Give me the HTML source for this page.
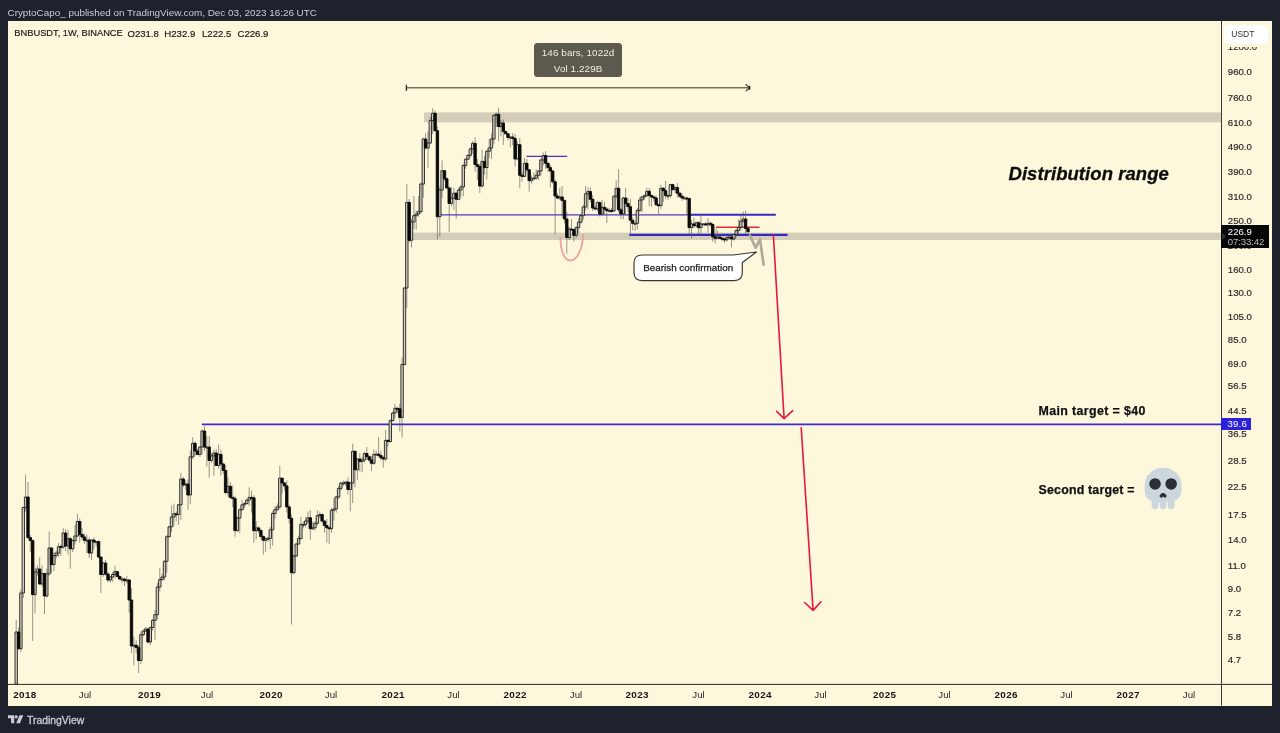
<!DOCTYPE html>
<html lang="en">
<head>
<meta charset="utf-8">
<title>BNBUSDT 1W chart</title>
<style>
  html, body { margin: 0; padding: 0; }
  body {
    width: 1280px; height: 733px; overflow: hidden; position: relative;
    background: #1e222d;
    font-family: "Liberation Sans", sans-serif;
  }
  .abs { position: absolute; white-space: nowrap; }
  #header {
    left: 7.5px; top: 6px; height: 14px; line-height: 14px;
    font-size: 9.9px; color: #c9cdd6;
  }
  #chart {
    left: 8px; top: 21px; width: 1264px; height: 684.5px;
    background: #fdf8dc; overflow: hidden;
  }
  #legend {
    left: 14.3px; top: 27px; height: 13px; line-height: 13px;
    font-size: 9.3px; color: #1b1b1b; word-spacing: 0; -webkit-text-stroke: 0.2px #1b1b1b;
  }
  #legend span { position: absolute; top: -0.3px; font-size: 9.6px; }
  #art { left: 0; top: 0; width: 1280px; height: 733px; }
  .plabel {
    left: 1227.8px; width: 40px; height: 12px; line-height: 12px;
    font-size: 9.6px; color: #2a2a2a; -webkit-text-stroke: 0.2px #2a2a2a;
  }
  .tlabel {
    top: 689px; height: 12px; line-height: 12px; width: 40px; margin-left: -20px;
    text-align: center; font-size: 9.7px; color: #2a2a2a;
  }
  .tlabel.y { font-weight: bold; color: #161616; letter-spacing: 0.32px; font-size: 9.9px; }
  #usdt {
    left: 1224px; top: 24.5px; width: 44px; height: 19px; line-height: 19px;
    background: #ffffff; border-radius: 3px; text-align: left; text-indent: 7.2px;
    font-size: 8.5px; color: #30302c; letter-spacing: 0.05px;
  }
  #cur {
    left: 1221.3px; top: 225.2px; width: 48px; height: 22.5px; background: #060606;
    color: #ffffff; font-size: 9.6px; line-height: 10.3px;
  }
  #cur div { padding-left: 6.5px; }
  #cur div:first-child { padding-top: 1.45px; }
  #cur div.t { color: #b9b9b9; letter-spacing: -0.1px; }
  #tgt {
    left: 1221.3px; top: 418px; width: 29.5px; height: 12.4px; line-height: 12.8px;
    background: #2d22dc; color: #fff; font-size: 9.6px;
  }
  #tgt div { padding-left: 6.3px; letter-spacing: 0.15px; }
  #tip {
    left: 533.8px; top: 42.6px; width: 88.6px; height: 34.8px; border-radius: 3.5px;
    background: #5c594f; color: #f3eed9; text-align: center; font-size: 9.9px;
    letter-spacing: 0.08px;
  }
  #tip div { height: 15.3px; line-height: 15.3px; }
  #tip div:first-child { padding-top: 2.8px; }
  #dist {
    left: 1008.5px; top: 161.9px; height: 24px; line-height: 24px;
    font-size: 18.5px; font-weight: bold; font-style: italic; color: #0d0d0d;
    letter-spacing: 0.06px; -webkit-text-stroke: 0.3px #0d0d0d;
  }
  .note {
    left: 1038.6px; height: 16px; line-height: 16px;
    font-size: 12.4px; font-weight: bold; color: #111; -webkit-text-stroke: 0.25px #111;
  }
  #callout-text {
    left: 634px; top: 255px; width: 108.3px; height: 25.6px; line-height: 25px;
    text-align: center; font-size: 9.9px; color: #1b1b1b; -webkit-text-stroke: 0.25px #1b1b1b;
  }
  #brand {
    left: 27px; top: 712.7px; height: 15px; line-height: 15px;
    font-size: 10.4px; color: #c9cdd6; -webkit-text-stroke: 0.3px #c9cdd6;
  }
</style>
</head>
<body>

<div id="header" class="abs">CryptoCapo_ published on TradingView.com, Dec 03, 2023 16:26 UTC</div>

<div id="chart" class="abs"></div>

<div id="legend" class="abs">BNBUSDT, 1W, BINANCE<span style="left:113.2px">O231.8</span><span style="left:150px">H232.9</span><span style="left:187.7px">L222.5</span><span style="left:223.2px">C226.9</span></div>

<svg id="art" class="abs" viewBox="0 0 1280 733" width="1280" height="733">
  <!-- distribution range bands -->
  <rect x="424" y="112.4" width="797.5" height="10" fill="#d4ceb9"/>
  <rect x="411.8" y="232.6" width="809.7" height="7.4" fill="#d4ceb9"/>

  <!-- horizontal levels -->
  <line x1="201.8" y1="424.4" x2="1221.5" y2="424.4" stroke="#3a2bd0" stroke-width="1.8"/>
  <line x1="438.5" y1="214.8" x2="692" y2="214.8" stroke="#4d38c6" stroke-width="1.25"/>
  <line x1="690" y1="214.8" x2="775.8" y2="214.8" stroke="#3629c4" stroke-width="2"/>
  <line x1="526.4" y1="156.3" x2="567.2" y2="156.3" stroke="#4535cc" stroke-width="1.2"/>
  <line x1="629.3" y1="234.85" x2="787.6" y2="234.85" stroke="#3427c2" stroke-width="2.4"/>
  <line x1="716" y1="227.3" x2="759.6" y2="227.3" stroke="#dd2c3a" stroke-width="1.4"/>
  <line x1="716" y1="227.1" x2="716" y2="234.9" stroke="#8a8678" stroke-width="0.7"/>

  <!-- candles -->
<path d="M16.2 620V684M18.6 627.3V649.8M20.9 589.4V652.1M23.3 506.7V598M25.6 474.5V511.6M28 482V538.8M30.3 534.9V552M32.7 539.5V641M35 567.6V613.3M37.4 565.1V575.7M39.7 557.3V584.9M42.1 565.4V586.7M44.5 572.4V614M46.8 568.7V597.3M49.2 531.5V575.7M51.5 547V572.9M53.9 551.8V571.1M56.2 550.5V558.3M58.6 543V557M60.9 544.8V555.8M63.3 528.1V549.2M65.6 529.2V551M68 530V554.6M70.3 536.8V568.8M72.7 539.4V552M75 525.1V544.6M77.4 514V537M79.7 518.4V542.5M82.1 527.9V539.9M84.5 533.5V544.2M86.8 534.5V553M89.2 537.7V558M91.5 539.2V560M93.9 537.5V549.4M96.2 540.9V546.4M98.6 540.3V558.4M100.9 556.2V593M103.3 561.9V576.8M105.6 559.8V575.7M108 571.9V582.1M110.3 576V582.8M112.7 572.1V581.8M115 565.8V578.1M117.4 570.8V577.5M119.7 575.5V580.2M122.1 576.8V583M124.5 577.8V586M126.8 575.8V583.7M129.2 578.9V612.7M131.5 588.3V653.1M133.9 636.7V665.3M136.2 640.2V653.2M138.6 645.3V673M140.9 631.6V664.2M143.3 629.6V636.4M145.6 626.8V632M148 628.4V643.5M150.3 626.5V645.4M152.7 618.9V631M155 610.2V640.1M157.4 582.8V619.3M159.8 567.9V591.5M162.1 573.8V580.8M164.5 560.3V580.2M166.8 534.9V572.8M169.2 525.6V537.4M171.5 505.3V532.1M173.9 503.6V526.3M176.2 511.8V521.5M178.6 503.9V525.1M180.9 472.8V520.1M183.3 476.7V487.2M185.6 480.4V489.9M188 479.5V509.7M190.3 450.3V504.3M192.7 437.2V459.2M195 441.7V456.1M197.4 448.7V455.2M199.8 446.3V456.9M202.1 429.2V454.9M204.5 426V451.2M206.8 435.9V466.7M209.2 436V477.7M211.5 453.2V463.3M213.9 449.8V475.9M216.2 449.1V466.1M218.6 444.5V468.7M220.9 449.8V475.7M223.3 462.9V474M225.6 465V494.5M228 477.2V496.6M230.3 481.8V498.6M232.7 485.7V507.1M235 495.6V536.7M237.4 516.7V532M239.8 508.5V533.1M242.1 499.7V511M244.5 502.1V508M246.8 498.9V504.3M249.2 487.3V506M251.5 490.6V512.5M253.9 495.2V542.7M256.2 521.1V539.3M258.6 526.2V533.1M260.9 529.4V539.5M263.3 535.3V554.6M265.6 537.4V551.9M268 536.6V541.7M270.3 526.8V549M272.7 510.8V545.8M275 506.4V518.8M277.4 503.4V510.4M279.8 465.8V508.7M282.1 477.6V493.5M284.5 481.7V490.4M286.8 480.3V512.5M289.2 504.8V523.4M291.5 514.6V624.5M293.9 555.1V574.6M296.2 543.2V557.1M298.6 535.7V544.8M300.9 516.8V539.5M303.3 521.7V528.3M305.6 517.1V527.6M308 511.3V523.7M310.3 510.1V539.6M312.7 521.7V530.2M315 521.1V530.6M317.4 510.2V525.2M319.8 511.5V518.1M322.1 513.5V522.9M324.5 520.1V532.5M326.8 519V542.5M329.2 526.5V543.9M331.5 507.9V532.8M333.9 498.3V520.7M336.2 495.8V512.7M338.6 486V499.2M340.9 481.8V490.7M343.3 480.4V485.8M345.6 481.3V486M348 477.6V494.5M350.3 482.1V511.3M352.7 443.6V503M355 450.3V487.3M357.4 458.2V479.7M359.8 453.1V471.4M362.1 456.8V472.3M364.5 451.9V462.7M366.8 447V459.7M369.2 455.2V461.8M371.5 456.2V471M373.9 449.5V464.8M376.2 450.6V455.3M378.6 437V456.5M380.9 450.6V460.5M383.3 455.8V467.6M385.6 430V461.4M388 439.3V446.5M390.3 419.1V442.8M392.7 411.8V421.6M395 403.9V418.3M397.4 406.8V412.9M399.8 403.8V431.6M402.1 357.6V437.5M404.5 287.3V365.2M406.8 184V308M409.2 199V242.6M411.5 219.1V247.5M413.9 196V229.2M416.2 210.3V229.8M418.6 196V216.9M420.9 182.5V213.8M423.3 137.5V197.7M425.6 133.3V149.5M428 131.3V168M430.3 117V143.7M432.7 108.2V134.1M435.1 110.5V131.7M437.4 125.9V239.3M439.8 186.7V236.7M442.1 160.4V197.9M444.5 169.9V180.7M446.8 177V188.6M449.2 185.8V232M451.5 187.2V206.3M453.9 188V210.1M456.2 191.7V218.8M458.6 187.9V200.4M460.9 185.2V196.8M463.3 163.9V196.3M465.6 158.3V168.9M468 154.5V160M470.3 147.2V157.3M472.7 141V154.2M475.1 137.4V171.7M477.4 159V180.1M479.8 164V193M482.1 149.7V187.6M484.5 155.8V174.5M486.8 150.4V179.3M489.2 138.8V157.9M491.5 133.3V158.9M493.9 114.2V144.1M496.2 112.3V127.1M498.6 107.6V141M500.9 120.1V136.3M503.3 119.4V145M505.6 130.5V134.5M508 132.8V140.2M510.3 136V147.3M512.7 133.2V145.2M515.1 134.1V166.6M517.4 141.5V159.6M519.8 137.9V188.4M522.1 172V181.7M524.5 157.8V177.4M526.8 159V171.7M529.2 169V191.6M531.5 175.5V183.6M533.9 172.5V179.5M536.2 169.2V179.8M538.6 170.3V180M540.9 158.8V175.6M543.3 152.4V165.3M545.6 151.2V168.8M548 162.2V171.7M550.3 164.9V187.5M552.7 170.1V183.5M555.1 179.4V234.2M557.4 193.2V199.4M559.8 187.7V200M562.1 185.9V216.9M564.5 199.7V223.3M566.8 211.8V253.8M569.2 226.1V240M571.5 219.2V230.6M573.9 228.8V241.9M576.2 226.1V237.8M578.6 218.5V233.5M580.9 213.9V223.4M583.3 204.9V219.8M585.6 185.9V210.4M588 187.3V209.4M590.3 187.5V202.4M592.7 194.9V211.1M595.1 205.9V210.2M597.4 200.8V211.4M599.8 201V216.5M602.1 199.9V215.4M604.5 201.8V214M606.8 207.4V223M609.2 207.7V212.9M611.5 207.9V213.3M613.9 195.4V212.2M616.2 180.3V198.9M618.6 169.2V212.2M620.9 208V219M623.3 196.6V219.6M625.6 187.6V215.8M628 197.7V212.3M630.4 198.8V233.7M632.7 217V230.4M635.1 222.5V230.7M637.4 208.2V229.5M639.8 196.6V212.4M642.1 196.2V212.4M644.5 194.7V199.7M646.8 187.6V197.1M649.2 188.1V206.3M651.5 194.4V206.7M653.9 195.4V201.9M656.2 196.1V206.1M658.6 203.7V214M660.9 184.6V208.9M663.3 187V202M665.6 181V199.1M668 194.7V200M670.4 183.8V197.8M672.7 183.8V191.1M675.1 186.3V193.3M677.4 183V197.6M679.8 191.7V198.1M682.1 193.3V200.9M684.5 196.2V198.9M686.8 196.4V213.9M689.2 197.5V233.7M691.5 220.1V238.4M693.9 217.7V228M696.2 221.6V227.7M698.6 221.1V235.8M700.9 215.3V233M703.3 223.3V224.6M705.6 222V225.8M708 218V232.5M710.4 221.3V226.8M712.7 222.8V241.7M715.1 235.7V243.4M717.4 230.7V239.1M719.8 234.5V238.8M722.1 237.5V241.1M724.5 238.3V242.8M726.8 235.9V241.7M729.2 234V238.5M731.5 235.8V247.4M733.9 233.5V240.6M736.2 229.2V237.1M738.6 219.4V235.2M740.9 215.1V230.4M743.3 211.5V222.7M745.6 210.6V234.1M748 227V232.5" stroke="#55534a" stroke-width="0.8" fill="none" opacity="0.75"/>
<path d="M15 632h2.4v52h-2.4zM19.7 593h2.4v55.7h-2.4zM22.1 507.5h2.4v85.5h-2.4zM24.4 497h2.4v10.5h-2.4zM33.8 572h2.4v22.6h-2.4zM36.2 569h2.4v3h-2.4zM40.9 573.6h2.4v10.4h-2.4zM45.6 573.8h2.4v22.2h-2.4zM48 548h2.4v25.8h-2.4zM52.7 555.6h2.4v9h-2.4zM55 553.1h2.4v2.5h-2.4zM57.4 546.6h2.4v6.5h-2.4zM62.1 533h2.4v14h-2.4zM66.8 538.7h2.4v7.3h-2.4zM71.5 540.7h2.4v8.1h-2.4zM73.8 536h2.4v4.7h-2.4zM76.2 521.5h2.4v14.5h-2.4zM85.6 540h2.4v1h-2.4zM90.3 540h2.4v13h-2.4zM95 541.6h2.4v1h-2.4zM102.1 563h2.4v11.5h-2.4zM109.1 577h2.4v3h-2.4zM111.5 574.5h2.4v2.5h-2.4zM113.8 571.7h2.4v2.8h-2.4zM120.9 579h2.4v1h-2.4zM125.6 580h2.4v1h-2.4zM132.7 645.2h2.4v1h-2.4zM139.7 634.7h2.4v25.8h-2.4zM142.1 631.1h2.4v3.6h-2.4zM144.4 629h2.4v2.1h-2.4zM149.1 627.5h2.4v14.5h-2.4zM151.5 620.4h2.4v7.1h-2.4zM153.8 614.7h2.4v5.7h-2.4zM156.2 587h2.4v27.7h-2.4zM158.6 579.6h2.4v7.4h-2.4zM160.9 577h2.4v2.6h-2.4zM163.3 561.3h2.4v15.7h-2.4zM165.6 536.7h2.4v24.6h-2.4zM168 526.9h2.4v9.8h-2.4zM170.3 517h2.4v9.9h-2.4zM172.7 513.8h2.4v3.2h-2.4zM177.4 504.8h2.4v9.8h-2.4zM179.7 479h2.4v25.8h-2.4zM184.4 484h2.4v1h-2.4zM189.1 456.9h2.4v38.1h-2.4zM191.5 443.3h2.4v13.6h-2.4zM198.6 447h2.4v7.4h-2.4zM200.9 431h2.4v16h-2.4zM205.6 447h2.4v1h-2.4zM210.3 455.9h2.4v4.6h-2.4zM212.7 453h2.4v2.9h-2.4zM217.4 454.4h2.4v11.1h-2.4zM226.8 486.3h2.4v6.2h-2.4zM236.2 518h2.4v12.6h-2.4zM238.6 509.7h2.4v8.3h-2.4zM240.9 504.8h2.4v4.9h-2.4zM243.3 503.6h2.4v1.2h-2.4zM245.6 500h2.4v3.6h-2.4zM248 497.4h2.4v2.6h-2.4zM255 527.9h2.4v2.8h-2.4zM264.4 538.4h2.4v1.9h-2.4zM266.8 538.4h2.4v1h-2.4zM269.1 529.8h2.4v8.6h-2.4zM271.5 513.5h2.4v16.3h-2.4zM273.8 509.7h2.4v3.8h-2.4zM276.2 506.9h2.4v2.8h-2.4zM278.6 478.2h2.4v28.7h-2.4zM292.7 555.9h2.4v16.8h-2.4zM295 544h2.4v11.9h-2.4zM297.4 538.6h2.4v5.4h-2.4zM299.7 524.4h2.4v14.2h-2.4zM302.1 524.4h2.4v1h-2.4zM304.4 521h2.4v3.4h-2.4zM306.8 517.8h2.4v3.2h-2.4zM311.5 527.8h2.4v1h-2.4zM313.8 523.3h2.4v4.5h-2.4zM316.2 515.6h2.4v7.7h-2.4zM318.6 514.6h2.4v1h-2.4zM330.3 510.2h2.4v18.5h-2.4zM332.7 509h2.4v1.2h-2.4zM335 497h2.4v12h-2.4zM337.4 488.4h2.4v8.6h-2.4zM339.7 483h2.4v5.4h-2.4zM342.1 483h2.4v1h-2.4zM344.4 482h2.4v1h-2.4zM349.1 483h2.4v6.5h-2.4zM351.5 451.3h2.4v31.7h-2.4zM356.2 459h2.4v10.8h-2.4zM360.9 460h2.4v1.6h-2.4zM363.3 453.5h2.4v6.5h-2.4zM372.7 454.5h2.4v8.8h-2.4zM375 454.1h2.4v1h-2.4zM384.4 440.4h2.4v18.6h-2.4zM389.1 420.7h2.4v20.8h-2.4zM391.5 413h2.4v7.7h-2.4zM393.8 408.3h2.4v4.7h-2.4zM400.9 364.5h2.4v53h-2.4zM403.3 288h2.4v76.5h-2.4zM405.6 202.4h2.4v85.6h-2.4zM410.3 222h2.4v18.3h-2.4zM412.7 215.7h2.4v6.3h-2.4zM415 214h2.4v1.7h-2.4zM417.4 211.6h2.4v2.4h-2.4zM419.7 184h2.4v27.6h-2.4zM422.1 139h2.4v45h-2.4zM426.8 143h2.4v5h-2.4zM429.1 120.5h2.4v22.5h-2.4zM431.5 113.3h2.4v7.2h-2.4zM438.6 190h2.4v26.7h-2.4zM440.9 170.7h2.4v19.3h-2.4zM450.3 198.3h2.4v5.1h-2.4zM452.7 193.2h2.4v5.1h-2.4zM457.4 190h2.4v9.3h-2.4zM459.7 187h2.4v3h-2.4zM462.1 165.5h2.4v21.5h-2.4zM464.4 159.2h2.4v6.3h-2.4zM466.8 155.3h2.4v3.9h-2.4zM469.1 149h2.4v6.3h-2.4zM471.5 143.4h2.4v5.6h-2.4zM480.9 161.4h2.4v24.6h-2.4zM485.6 151.2h2.4v16.4h-2.4zM488 148h2.4v3.2h-2.4zM490.3 139h2.4v9h-2.4zM492.7 115.4h2.4v23.6h-2.4zM495 114.3h2.4v1.1h-2.4zM499.7 123h2.4v3.6h-2.4zM509.1 137h2.4v1h-2.4zM516.2 144.7h2.4v14.3h-2.4zM523.3 163.3h2.4v13.1h-2.4zM530.3 178.6h2.4v2.1h-2.4zM532.7 178h2.4v1h-2.4zM535 175.3h2.4v2.7h-2.4zM537.4 171h2.4v4.3h-2.4zM539.7 160h2.4v11h-2.4zM542.1 155.6h2.4v4.4h-2.4zM558.6 197h2.4v1.1h-2.4zM568 229h2.4v8.5h-2.4zM575 227.6h2.4v7.7h-2.4zM577.4 222.2h2.4v5.4h-2.4zM579.7 215.6h2.4v6.6h-2.4zM582.1 207h2.4v8.6h-2.4zM584.4 193.8h2.4v13.2h-2.4zM586.8 191.6h2.4v2.2h-2.4zM596.2 202.6h2.4v6.4h-2.4zM600.9 207.3h2.4v6.7h-2.4zM608 210.4h2.4v1h-2.4zM612.7 196.2h2.4v14.8h-2.4zM615 188.3h2.4v7.9h-2.4zM622.1 198h2.4v16h-2.4zM633.9 223.3h2.4v1h-2.4zM636.2 210.4h2.4v12.9h-2.4zM638.6 200h2.4v10.4h-2.4zM640.9 196.9h2.4v3.1h-2.4zM643.3 195.6h2.4v1.3h-2.4zM645.6 191.3h2.4v4.3h-2.4zM659.7 188.3h2.4v17.2h-2.4zM666.8 195.6h2.4v1h-2.4zM669.2 184.6h2.4v11h-2.4zM673.9 187.6h2.4v1.9h-2.4zM683.3 198h2.4v1h-2.4zM690.3 223.9h2.4v3.7h-2.4zM695 222.7h2.4v3h-2.4zM699.7 223.9h2.4v3.7h-2.4zM702.1 223.9h2.4v1h-2.4zM706.8 223.3h2.4v1.7h-2.4zM716.2 237h2.4v1.2h-2.4zM725.6 237.7h2.4v2.1h-2.4zM728 237h2.4v1h-2.4zM732.7 234.5h2.4v4.5h-2.4zM735 230.6h2.4v3.9h-2.4zM737.4 227.4h2.4v3.2h-2.4zM739.7 221h2.4v6.4h-2.4zM742.1 219h2.4v2h-2.4z" fill="#cfcabb" stroke="#222" stroke-width="0.9"/>
<path d="M17.4 632h2.4v16.7h-2.4zM26.8 497h2.4v40.6h-2.4zM29.1 537.6h2.4v3h-2.4zM31.5 540.6h2.4v54h-2.4zM38.5 569h2.4v15h-2.4zM43.3 573.6h2.4v22.4h-2.4zM50.3 548h2.4v16.6h-2.4zM59.7 546.6h2.4v1h-2.4zM64.4 533h2.4v13h-2.4zM69.1 538.7h2.4v10.1h-2.4zM78.5 521.5h2.4v12.9h-2.4zM80.9 534.4h2.4v2.6h-2.4zM83.3 537h2.4v3.3h-2.4zM88 540h2.4v13h-2.4zM92.7 540h2.4v2h-2.4zM97.4 541.6h2.4v15.4h-2.4zM99.7 557h2.4v17.5h-2.4zM104.4 563h2.4v11h-2.4zM106.8 574h2.4v6h-2.4zM116.2 571.7h2.4v4.8h-2.4zM118.5 576.5h2.4v2.5h-2.4zM123.3 579h2.4v1.7h-2.4zM128 580h2.4v20h-2.4zM130.3 600h2.4v46h-2.4zM135 645.2h2.4v2.4h-2.4zM137.4 647.6h2.4v12.9h-2.4zM146.8 629h2.4v13h-2.4zM175 513.8h2.4v1h-2.4zM182.1 479h2.4v6h-2.4zM186.8 484h2.4v11h-2.4zM193.8 443.3h2.4v7.7h-2.4zM196.2 451h2.4v3.4h-2.4zM203.3 431h2.4v16h-2.4zM208 447h2.4v13.5h-2.4zM215 453h2.4v12.5h-2.4zM219.7 454.4h2.4v9.6h-2.4zM222.1 464h2.4v6.4h-2.4zM224.4 470.4h2.4v22.1h-2.4zM229.1 486.3h2.4v11.1h-2.4zM231.5 497.4h2.4v1.2h-2.4zM233.8 498.6h2.4v32h-2.4zM250.3 497.4h2.4v1h-2.4zM252.7 497.8h2.4v32.9h-2.4zM257.4 527.9h2.4v2.6h-2.4zM259.7 530.5h2.4v6h-2.4zM262.1 536.5h2.4v3.8h-2.4zM280.9 478.2h2.4v4.8h-2.4zM283.3 483h2.4v2.9h-2.4zM285.6 485.9h2.4v21h-2.4zM288 506.9h2.4v11.4h-2.4zM290.3 518.3h2.4v54.4h-2.4zM309.1 517.8h2.4v10.9h-2.4zM320.9 514.6h2.4v6.5h-2.4zM323.3 521.1h2.4v4.4h-2.4zM325.6 525.5h2.4v2.3h-2.4zM328 527.8h2.4v1h-2.4zM346.8 482h2.4v7.5h-2.4zM353.8 451.3h2.4v18.5h-2.4zM358.6 459h2.4v2.6h-2.4zM365.6 453.5h2.4v3.2h-2.4zM368 456.7h2.4v3.3h-2.4zM370.3 460h2.4v3.3h-2.4zM377.4 454.1h2.4v1.5h-2.4zM379.7 455.6h2.4v2.2h-2.4zM382.1 457.8h2.4v1.2h-2.4zM386.8 440.4h2.4v1.1h-2.4zM396.2 408.3h2.4v1h-2.4zM398.6 408.7h2.4v8.8h-2.4zM408 202.4h2.4v37.9h-2.4zM424.4 139h2.4v9h-2.4zM433.9 113.3h2.4v17.4h-2.4zM436.2 130.7h2.4v86h-2.4zM443.3 170.7h2.4v8.1h-2.4zM445.6 178.8h2.4v9.2h-2.4zM448 188h2.4v15.4h-2.4zM455 193.2h2.4v6.1h-2.4zM473.9 143.4h2.4v21.1h-2.4zM476.2 164.5h2.4v2h-2.4zM478.6 166.5h2.4v19.5h-2.4zM483.3 161.4h2.4v6.2h-2.4zM497.4 114.3h2.4v12.3h-2.4zM502.1 123h2.4v8.6h-2.4zM504.4 131.6h2.4v2.2h-2.4zM506.8 133.8h2.4v3.7h-2.4zM511.5 137h2.4v1.5h-2.4zM513.9 138.5h2.4v20.5h-2.4zM518.6 144.7h2.4v30.6h-2.4zM520.9 175.3h2.4v1.1h-2.4zM525.6 163.3h2.4v6.5h-2.4zM528 169.8h2.4v10.9h-2.4zM544.4 155.6h2.4v7.7h-2.4zM546.8 163.3h2.4v4.3h-2.4zM549.1 167.6h2.4v3.4h-2.4zM551.5 171h2.4v10.8h-2.4zM553.9 181.8h2.4v14.2h-2.4zM556.2 196h2.4v2.1h-2.4zM560.9 197h2.4v3.4h-2.4zM563.3 200.4h2.4v18.6h-2.4zM565.6 219h2.4v18.5h-2.4zM570.3 229h2.4v1h-2.4zM572.7 229.6h2.4v5.7h-2.4zM589.1 191.6h2.4v7.7h-2.4zM591.5 199.3h2.4v8.7h-2.4zM593.9 208h2.4v1h-2.4zM598.6 202.6h2.4v11.4h-2.4zM603.3 207.3h2.4v1.8h-2.4zM605.6 209.1h2.4v1.6h-2.4zM610.3 210.4h2.4v1h-2.4zM617.4 188.3h2.4v21.5h-2.4zM619.7 209.8h2.4v4.2h-2.4zM624.4 198h2.4v5.6h-2.4zM626.8 203.6h2.4v3.1h-2.4zM629.1 206.7h2.4v13.5h-2.4zM631.5 220.2h2.4v3.1h-2.4zM648 191.3h2.4v4.3h-2.4zM650.3 195.6h2.4v1.3h-2.4zM652.7 196.9h2.4v1.1h-2.4zM655 198h2.4v6.8h-2.4zM657.4 204.8h2.4v1h-2.4zM662.1 188.3h2.4v2.4h-2.4zM664.4 190.7h2.4v4.9h-2.4zM671.5 184.6h2.4v4.9h-2.4zM676.2 187.6h2.4v5.6h-2.4zM678.6 193.2h2.4v3h-2.4zM680.9 196.2h2.4v1.8h-2.4zM685.6 198h2.4v1h-2.4zM688 198.5h2.4v29.1h-2.4zM692.7 223.9h2.4v1.8h-2.4zM697.4 222.7h2.4v4.9h-2.4zM704.4 223.9h2.4v1.1h-2.4zM709.2 223.3h2.4v1.2h-2.4zM711.5 224.5h2.4v12.3h-2.4zM713.9 236.8h2.4v1.4h-2.4zM718.6 237h2.4v1.2h-2.4zM720.9 238.2h2.4v1h-2.4zM723.3 239h2.4v1h-2.4zM730.3 237h2.4v2h-2.4zM744.4 219h2.4v9.5h-2.4zM746.8 228.5h2.4v3.3h-2.4z" fill="#0a0a0a" stroke="#0a0a0a" stroke-width="0.9"/>


  <!-- pink swing-low marker -->
  <path d="M560.5 237.3 C560 250 564 260.5 570.5 260.5 C577 260.5 582.5 249 583.2 234.6" fill="none" stroke="#e9a29e" stroke-width="1.8" stroke-linecap="round"/>

  <!-- measure arrow -->
  <path d="M406.5 87.8H749.5" fill="none" stroke="#77715a" stroke-width="1.5"/>
  <path d="M406.4 84.7V90.9" fill="none" stroke="#2f2c20" stroke-width="1.3"/>
  <path d="M745.6 84.2L749.6 87.8L745.6 91.4" fill="none" stroke="#4a4636" stroke-width="1.2"/>
  <path d="M749.5 85.9V89.8" fill="none" stroke="#1f1d15" stroke-width="1.5"/>

  <!-- grey projected squiggle -->
  <path d="M750 235.6 L755.6 247.8 L760 239.2 L763.6 264.7" fill="none" stroke="#b0ab99" stroke-width="2.7" stroke-linejoin="round" stroke-linecap="round"/>

  <!-- red projection arrows -->
  <g fill="none" stroke="#e8193e" stroke-width="1.6" stroke-linecap="round" stroke-linejoin="round">
    <path d="M773.4 235.4 L784.1 418.6 M776.6 411.4 L784.1 418.6 L792.7 410.7"/>
    <path d="M801.2 427.8 L813.1 610.4 M804.6 602.5 L813.1 610.4 L821 601.8"/>
  </g>

  <!-- callout bubble -->
  <path d="M642 255 H733 L756.5 252 L742.3 262.5 V272.6 Q742.3 280.6 734.3 280.6 H642 Q634 280.6 634 272.6 V263 Q634 255 642 255 Z" fill="#ffffff" stroke="#38362e" stroke-width="1.15" stroke-linejoin="round"/>

  <!-- axes -->
  <line x1="1221.5" y1="21" x2="1221.5" y2="705.5" stroke="#3b3a34" stroke-width="1"/>
  <line x1="8" y1="684.4" x2="1272" y2="684.4" stroke="#2a2a26" stroke-width="1"/>

  <!-- price-label pointer -->
  

  <!-- skull -->
  <g transform="translate(1142.4 467.8) scale(1.15)">
    <path fill="#ccd6dd" d="M34 16C34 6 26.837 0 18 0 9.164 0 2 6 2 16c0 5.574.002 10.388 6 12.640V33c0 1.657 1.343 3 3 3s3-1.343 3-3v-3.155c.324.027.659.050 1 .070V33c0 1.657 1.343 3 3 3s3-1.343 3-3v-3.085c.342-.021.676-.043 1-.070V33c0 1.657 1.344 3 3 3 1.657 0 3-1.343 3-3v-4.360c5.998-2.252 6-7.066 6-12.640z"/>
    <circle fill="#292f33" cx="11" cy="14" r="5"/>
    <circle fill="#292f33" cx="25" cy="14" r="5"/>
    <path fill="#292f33" d="M19.903 23.062C19.651 22.449 18.900 22 18 22s-1.652.449-1.903 1.062c-.632.176-1.097.750-1.097 1.438 0 .828.672 1.500 1.500 1.500.655 0 1.206-.422 1.410-1.007.030.001.059.007.090.007s.060-.006.090-.007c.204.585.755 1.007 1.410 1.007.828 0 1.500-.672 1.500-1.500 0-.688-.465-1.262-1.097-1.438z"/>
  </g>

  <!-- TradingView mark -->
  <g fill="#c9cdd6">
    <path d="M8 715.2h6.2v8h-3.1v-4.9H8z"/>
    <circle cx="16.2" cy="716.8" r="1.6"/>
    <path d="M19.6 715.2h3.7l-3.4 8h-3.7z"/>
  </g>
</svg>

<!-- price scale -->
<div class="abs plabel" style="top:41.4px">1200.0</div>
<div class="abs plabel" style="top:66.1px">960.0</div>
<div class="abs plabel" style="top:92px">760.0</div>
<div class="abs plabel" style="top:116.6px">610.0</div>
<div class="abs plabel" style="top:140.6px">490.0</div>
<div class="abs plabel" style="top:166px">390.0</div>
<div class="abs plabel" style="top:191px">310.0</div>
<div class="abs plabel" style="top:214.7px">250.0</div>
<div class="abs plabel" style="top:240px">200.0</div>
<div class="abs plabel" style="top:264px">160.0</div>
<div class="abs plabel" style="top:287.4px">130.0</div>
<div class="abs plabel" style="top:311px">105.0</div>
<div class="abs plabel" style="top:334.2px">85.0</div>
<div class="abs plabel" style="top:357.5px">69.0</div>
<div class="abs plabel" style="top:379.8px">56.5</div>
<div class="abs plabel" style="top:405.2px">44.5</div>
<div class="abs plabel" style="top:428px">36.5</div>
<div class="abs plabel" style="top:454.9px">28.5</div>
<div class="abs plabel" style="top:481.2px">22.5</div>
<div class="abs plabel" style="top:508.7px">17.5</div>
<div class="abs plabel" style="top:533.6px">14.0</div>
<div class="abs plabel" style="top:560px">11.0</div>
<div class="abs plabel" style="top:582.6px">9.0</div>
<div class="abs plabel" style="top:607px">7.2</div>
<div class="abs plabel" style="top:631px">5.8</div>
<div class="abs plabel" style="top:654.3px">4.7</div>

<div class="abs" style="left:1223px;top:40px;width:46px;height:6.8px;background:#fdf8dc"></div>
<div id="usdt" class="abs">USDT</div>
<div id="cur" class="abs"><div>226.9</div><div class="t">07:33:42</div></div>
<svg class="abs" style="left:1221px;top:230px" width="6" height="12" viewBox="0 0 6 12"><path d="M1 2.5L4.6 6.2L1 9.9z" fill="#2c2f38"/></svg>
<div id="tgt" class="abs"><div>39.6</div></div>

<!-- time scale -->
<div class="abs tlabel y" style="left:24.9px">2018</div>
<div class="abs tlabel" style="left:85.0px">Jul</div>
<div class="abs tlabel y" style="left:149.5px">2019</div>
<div class="abs tlabel" style="left:207.0px">Jul</div>
<div class="abs tlabel y" style="left:271.2px">2020</div>
<div class="abs tlabel" style="left:331.0px">Jul</div>
<div class="abs tlabel y" style="left:393.2px">2021</div>
<div class="abs tlabel" style="left:453.5px">Jul</div>
<div class="abs tlabel y" style="left:515.2px">2022</div>
<div class="abs tlabel" style="left:576.0px">Jul</div>
<div class="abs tlabel y" style="left:637.2px">2023</div>
<div class="abs tlabel" style="left:698.5px">Jul</div>
<div class="abs tlabel y" style="left:760.2px">2024</div>
<div class="abs tlabel" style="left:820.5px">Jul</div>
<div class="abs tlabel y" style="left:884.7px">2025</div>
<div class="abs tlabel" style="left:944.5px">Jul</div>
<div class="abs tlabel y" style="left:1006.2px">2026</div>
<div class="abs tlabel" style="left:1066.5px">Jul</div>
<div class="abs tlabel y" style="left:1128.2px">2027</div>
<div class="abs tlabel" style="left:1189.0px">Jul</div>

<!-- annotations -->
<div id="tip" class="abs"><div>146 bars, 1022d</div><div>Vol 1.229B</div></div>
<div id="dist" class="abs">Distribution range</div>
<div class="abs note" style="top:402.6px;letter-spacing:0.37px">Main target = $40</div>
<div class="abs note" style="top:481.6px;letter-spacing:0.18px">Second target =</div>
<div id="callout-text" class="abs">Bearish confirmation</div>

<div id="brand" class="abs">TradingView</div>

</body>
</html>
